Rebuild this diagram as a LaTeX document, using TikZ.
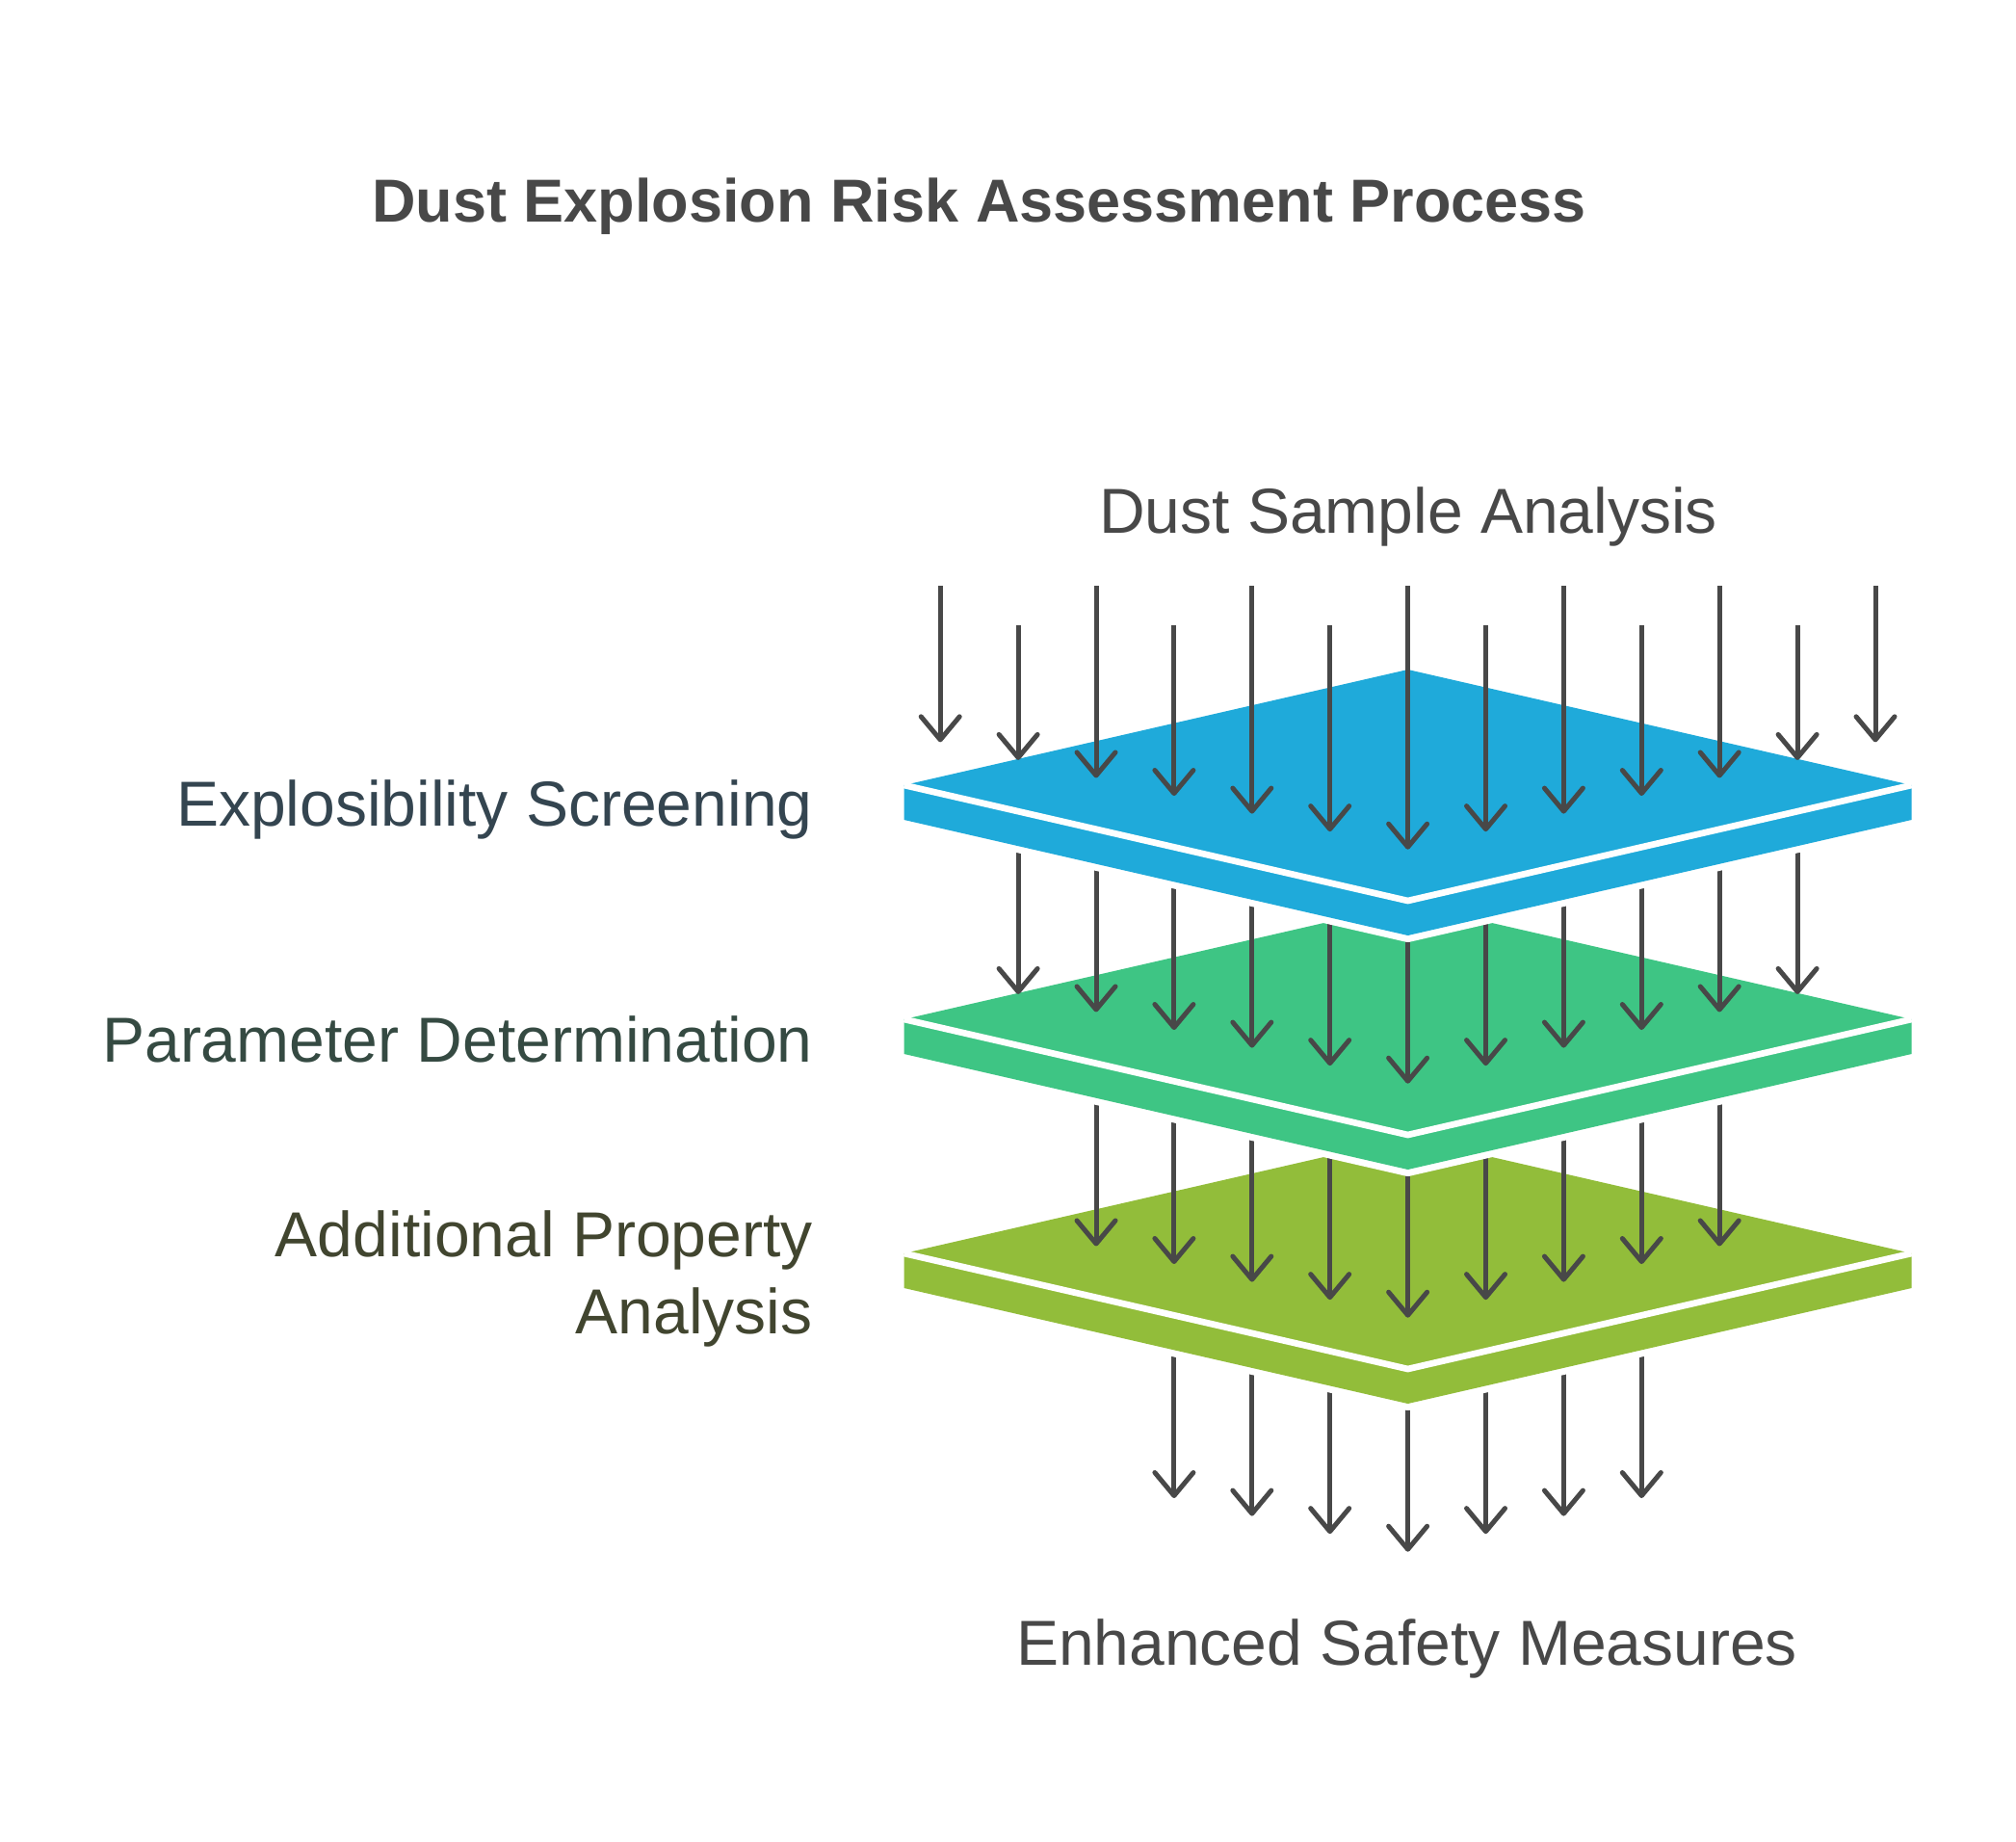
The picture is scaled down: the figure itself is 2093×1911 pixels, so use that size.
\documentclass[tikz,border=0pt]{standalone}
\usepackage{fontspec}
\setmainfont{Liberation Sans}
\usetikzlibrary{arrows.meta}
\definecolor{skyplate}{HTML}{1FAADA}
\definecolor{grassplate}{HTML}{3EC584}
\definecolor{limeplate}{HTML}{92BD3A}
\definecolor{inkgray}{HTML}{484848}
\definecolor{slateink}{HTML}{344550}
\definecolor{mossink}{HTML}{354A42}
\definecolor{oliveink}{HTML}{41452F}
\begin{document}
\begin{tikzpicture}[x=0.5pt, y=-0.5pt,
  every node/.style={inner sep=0pt, font=\fontsize{33}{40}\selectfont, text=inkgray},
  flow/.style={draw=inkgray, line width=2.5pt, -{Straight Barb[length=12pt,width=20pt,round]}}]
\useasboundingbox (0,0) rectangle (2093,1911);
% plates from the bottom up, each one hiding the lines that leave it
\foreach \Y/\col/\m in {1301/limeplate/3, 1058/grassplate/4, 815/skyplate/5} {
  \foreach \k in {-\m,...,\m}
    \draw[flow] ({1461.6+80.9*\k},\Y+20) -- ({1461.6+80.9*\k},{\Y+309.7-18.56*abs(\k)});
  \path[fill=\col, preaction={draw=white, line width=7pt, line join=round}]
    (938.6,\Y) -- (1461.6,\Y-120) -- (1984.6,\Y) -- (1984.6,\Y+36) -- (1461.6,\Y+156) -- (938.6,\Y+36) -- cycle;
  \draw[white, line width=3.35pt] (938.6,\Y) -- (1461.6,\Y+120) -- (1984.6,\Y);
}
% dust falling onto the top plate
\foreach \k in {-6,...,6}
  \draw[flow] ({1461.6+80.9*\k},{608.3+40.7*isodd(\k)}) -- ({1461.6+80.9*\k},{881.7-18.56*abs(\k)});
\node[anchor=base, font=\fontsize{31.5}{38}\selectfont\bfseries] (title) at (1016.7,230) {Dust Explosion Risk Assessment Process};
\node[anchor=base] (sample) at (1462,553) {Dust Sample Analysis};
\node[anchor=base east, text=slateink] (screening) at (844,857) {Explosibility Screening};
\node[anchor=base east, text=mossink] (params) at (844,1102.5) {Parameter Determination};
\node[anchor=base east, text=oliveink, align=right] (props) at (844,1384) {Additional Property\\Analysis};
\node[anchor=base] (safety) at (1460.5,1728.3) {Enhanced Safety Measures};
\end{tikzpicture}
\end{document}
